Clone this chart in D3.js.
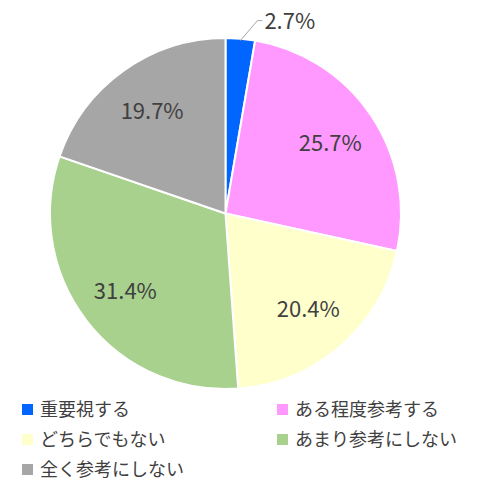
<!DOCTYPE html>
<html><head><meta charset="utf-8">
<script src="https://cdn.jsdelivr.net/npm/d3@7"></script>
<style>body{margin:0;background:#fff}</style></head>
<body><svg id="c" width="500" height="492"></svg>
<script>
const categories=["重要視する","ある程度参考する","どちらでもない","あまり参考にしない","全く参考にしない"];
const values=[2.7,25.7,20.4,31.4,19.7];
const colors=["#0066FF","#FF99FF","#FFFFCC","#A9D18E","#A6A6A6"];
const svg=d3.select("#c");
const cx=225.5,cy=213.5,r=175.5;
const g=svg.append("g").attr("transform",`translate(${cx},${cy})`);
const arcs=d3.pie().sort(null).value(d=>d)(values);
const arc=d3.arc().innerRadius(0).outerRadius(r);
g.selectAll("path").data(arcs).join("path").attr("d",arc)
 .attr("fill",(d,i)=>colors[i]).attr("stroke","#fff").attr("stroke-width",2);
const lab=d3.arc().innerRadius(r*0.72).outerRadius(r*0.72);
g.selectAll("text.l").data(arcs).join("text").attr("class","l")
 .each(function(d,i){
  const t=d3.select(this);
  if(i===0){
    const p=d3.arc().innerRadius(r).outerRadius(r).centroid(d);
    g.append("polyline").attr("points",`${p[0]},${p[1]+2} ${p[0]+17},${p[1]-18} ${p[0]+22},${p[1]-18}`)
     .attr("fill","none").attr("stroke","#A6A6A6").attr("stroke-width",1);
    t.attr("x",p[0]+24).attr("y",p[1]-10).attr("text-anchor","start");
  } else {
    const c=lab.centroid(d);
    t.attr("x",c[0]).attr("y",c[1]+8).attr("text-anchor","middle");
  }
 })
 .text(d=>d.value.toFixed(1)+"%")
 .attr("font-family","Noto Sans CJK JP, sans-serif").attr("font-size",22).attr("fill","#404040");
const pos=[[22,410],[277,410],[22,440],[277,440],[22,470]];
categories.forEach((c,i)=>{
  svg.append("rect").attr("x",pos[i][0]).attr("y",pos[i][1]-6).attr("width",11).attr("height",11).attr("fill",colors[i]);
  svg.append("text").attr("x",pos[i][0]+18).attr("y",pos[i][1]+6).text(c)
   .attr("font-family","Noto Sans CJK JP, sans-serif").attr("font-size",18).attr("fill","#404040");
});
</script></body></html>
